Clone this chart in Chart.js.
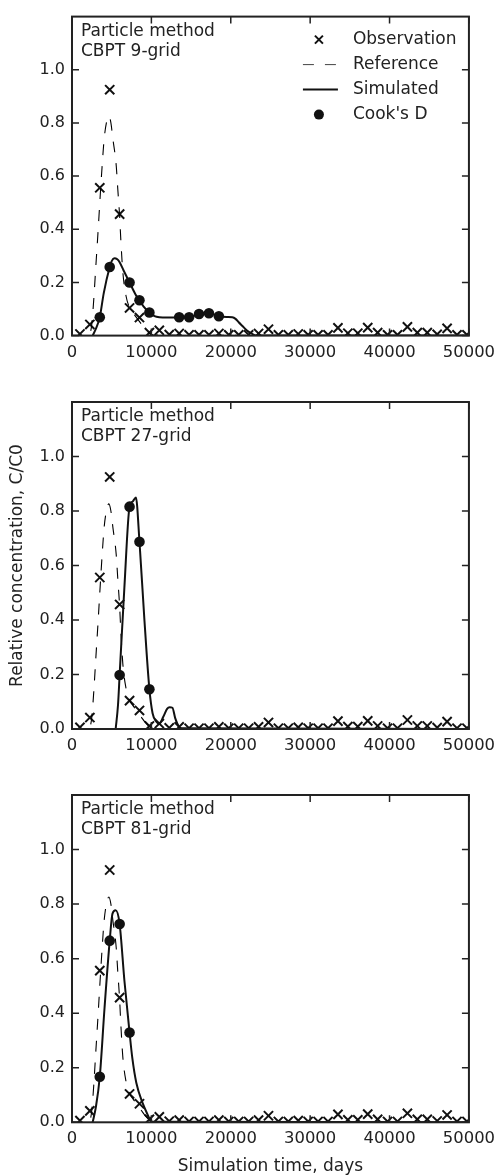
<!DOCTYPE html>
<html lang="en">
<head>
    <meta charset="UTF-8" />
    <meta name="viewport" content="width=device-width, initial-scale=1" />
    <title>Particle method CBPT breakthrough curves</title>
    <script src="https://cdn.jsdelivr.net/npm/chart.js"></script>
    <style>
        body {
            margin: 0;
            padding: 0;
            background-color: #ffffff;
        }

        .wrap {
            position: relative;
            width: 502px;
            height: 1176px;
        }

        .panel {
            position: absolute;
            left: 0;
            width: 502px;
        }
    </style>
</head>
<body>
    <div class="wrap">
        <div class="panel" style="top:0;height:370px"><canvas id="grid9"></canvas></div>
        <div class="panel" style="top:370px;height:392px"><canvas id="grid27"></canvas></div>
        <div class="panel" style="top:762px;height:414px"><canvas id="grid81"></canvas></div>
    </div>

    <script>
        // observations (same in all three panels)
        const obsDays = [1000, 2250, 3500, 4750, 6000, 7250, 8500, 9750, 11000, 12250,
            13500, 14750, 16000, 17250, 18500, 19750, 21000, 22250, 23500, 24750,
            26000, 27250, 28500, 29750, 31000, 32250, 33500, 34750, 36000, 37250,
            38500, 39750, 41000, 42250, 43500, 44750, 46000, 47250, 48500, 49750];
        const obsConc = [0.006, 0.042, 0.556, 0.925, 0.457, 0.104, 0.068, 0.011, 0.02, 0.004,
            0.008, 0.003, 0.003, 0.003, 0.008, 0.003, 0.003, 0.003, 0.008, 0.024,
            0.003, 0.003, 0.006, 0.003, 0.003, 0.003, 0.029, 0.009, 0.009, 0.030,
            0.011, 0.003, 0.003, 0.033, 0.011, 0.011, 0.005, 0.027, 0.003, 0.003];

        // reference solution (dashed)
        const refDays = [0, 2000, 2300, 2500, 2750, 3000, 3300, 3500, 3800, 4050, 4400, 4650, 4900,
            5150, 5570, 5770, 6000, 6150, 6400, 6800, 7250, 7700, 8200, 8700, 9200, 9700, 10200, 50000];
        const refConc = [0, 0, 0.01, 0.045, 0.14, 0.26, 0.4, 0.5, 0.64, 0.74, 0.81, 0.826, 0.8,
            0.74, 0.64, 0.55, 0.45, 0.36, 0.24, 0.15, 0.105, 0.085, 0.065, 0.045, 0.025, 0.01, 0.002, 0];

        // CBPT 9-grid
        const sim9Days = [2600, 3000, 3500, 4000, 4750, 5000, 5350, 5700, 6000, 6500,
            7250, 8000, 8500, 9000, 9750, 10400, 11000, 12000, 13500, 14750,
            16000, 17250, 18500, 19500, 20200, 20600, 21000, 21500, 22000, 22600, 23200, 50000];
        const sim9Conc = [0, 0.025, 0.069, 0.16, 0.258, 0.28, 0.291, 0.287, 0.276, 0.245,
            0.2, 0.155, 0.133, 0.11, 0.087, 0.073, 0.069, 0.068, 0.069, 0.069,
            0.081, 0.084, 0.073, 0.07, 0.069, 0.063, 0.05, 0.035, 0.02, 0.008, 0, 0];
        const cook9Days = [3500, 4750, 7250, 8500, 9750, 13500, 14750, 16000, 17250, 18500];
        const cook9Conc = [0.069, 0.258, 0.2, 0.133, 0.087, 0.069, 0.069, 0.081, 0.084, 0.073];

        // CBPT 27-grid
        const sim27Days = [5500, 5800, 6000, 6600, 7250, 7650, 8050, 8500, 9100, 9750,
            10150, 10600, 11000, 11500, 12000, 12300, 12650, 13000, 13300, 13600, 50000];
        const sim27Conc = [0, 0.09, 0.198, 0.52, 0.816, 0.835, 0.85, 0.687, 0.41, 0.146,
            0.058, 0.028, 0.02, 0.045, 0.075, 0.08, 0.078, 0.04, 0.018, 0.003, 0];
        const cook27Days = [6000, 7250, 8500, 9750];
        const cook27Conc = [0.198, 0.816, 0.687, 0.146];

        // CBPT 81-grid
        const sim81Days = [2600, 3000, 3500, 4100, 4750, 5100, 5500, 6000, 6600, 7250,
            7600, 8100, 8900, 9500, 10000, 50000];
        const sim81Conc = [0, 0.055, 0.167, 0.42, 0.666, 0.765, 0.777, 0.727, 0.52, 0.329,
            0.235, 0.145, 0.07, 0.03, 0.002, 0];
        const cook81Days = [3500, 4750, 6000, 7250];
        const cook81Conc = [0.167, 0.666, 0.727, 0.329];

        const xTicks = [0, 10000, 20000, 30000, 40000, 50000];

        Chart.defaults.font.family = "'DejaVu Sans', sans-serif";
        Chart.defaults.color = '#222';

        const ink = '#111';
        const toXY = (xs, ys) => xs.map((x, i) => ({ x: x, y: ys[i] }));

        // box around plot area + inward ticks on all sides
        const framePlugin = {
            id: 'frame',
            afterDatasetsDraw(chart) {
                const { ctx, chartArea: a, scales } = chart;
                ctx.save();
                ctx.strokeStyle = '#222';
                ctx.lineWidth = 1.5;
                ctx.beginPath();
                scales.x.ticks.forEach(t => {
                    const px = scales.x.getPixelForValue(t.value);
                    ctx.moveTo(px, a.bottom); ctx.lineTo(px, a.bottom - 7);
                    ctx.moveTo(px, a.top); ctx.lineTo(px, a.top + 7);
                });
                scales.y.ticks.forEach(t => {
                    const py = scales.y.getPixelForValue(t.value);
                    ctx.moveTo(a.left, py); ctx.lineTo(a.left + 7, py);
                    ctx.moveTo(a.right, py); ctx.lineTo(a.right - 7, py);
                });
                ctx.stroke();
                ctx.lineWidth = 2;
                ctx.strokeRect(a.left, a.top, a.right - a.left, a.bottom - a.top);
                ctx.restore();
            }
        };

        function notePlugin(lines) {
            return {
                id: 'note',
                afterDatasetsDraw(chart) {
                    const { ctx, chartArea: a } = chart;
                    ctx.save();
                    ctx.font = "17px 'DejaVu Sans', sans-serif";
                    ctx.fillStyle = '#222';
                    ctx.textBaseline = 'middle';
                    ctx.textAlign = 'left';
                    lines.forEach((s, i) => ctx.fillText(s, a.left + 9, a.top + 15 + i * 20));
                    ctx.restore();
                }
            };
        }

        // hand-drawn legend, top right of the first panel
        const keyPlugin = {
            id: 'key',
            afterDatasetsDraw(chart) {
                const { ctx, chartArea: a } = chart;
                const sx = a.right - 150, lx0 = a.right - 166, lx1 = a.right - 131, tx = a.right - 116;
                const rowY = i => a.top + 23 + i * 25;
                ctx.save();
                ctx.strokeStyle = ink;
                ctx.fillStyle = ink;
                // Observation
                ctx.lineWidth = 2;
                ctx.beginPath();
                ctx.moveTo(sx - 4, rowY(0) - 4); ctx.lineTo(sx + 4, rowY(0) + 4);
                ctx.moveTo(sx - 4, rowY(0) + 4); ctx.lineTo(sx + 4, rowY(0) - 4);
                ctx.stroke();
                // Reference
                ctx.lineWidth = 1;
                ctx.strokeStyle = '#444';
                ctx.setLineDash([11, 11]);
                ctx.beginPath();
                ctx.moveTo(lx0, rowY(1)); ctx.lineTo(lx1, rowY(1));
                ctx.stroke();
                ctx.setLineDash([]);
                // Simulated
                ctx.strokeStyle = ink;
                ctx.lineWidth = 2;
                ctx.beginPath();
                ctx.moveTo(lx0, rowY(2)); ctx.lineTo(lx1, rowY(2));
                ctx.stroke();
                // Cook's D
                ctx.beginPath();
                ctx.arc(sx, rowY(3), 5, 0, Math.PI * 2);
                ctx.fill();
                ctx.font = "17px 'DejaVu Sans', sans-serif";
                ctx.fillStyle = '#222';
                ctx.textBaseline = 'middle';
                ['Observation', 'Reference', 'Simulated', "Cook's D"].forEach((s, i) => ctx.fillText(s, tx, rowY(i)));
                ctx.restore();
            }
        };

        function makePanel(id, simDays, simConc, cookDays, cookConc, note, geo) {
            const ctx = document.getElementById(id).getContext('2d');
            const plugins = [framePlugin, notePlugin(note)];
            if (geo.legend) plugins.push(keyPlugin);
            return new Chart(ctx, {
                type: 'scatter',
                data: {
                    datasets: [
                        {
                            label: 'Observation',
                            data: toXY(obsDays, obsConc),
                            pointStyle: 'crossRot',
                            pointRadius: 6.5,
                            pointBorderWidth: 2,
                            borderColor: ink,
                            backgroundColor: ink,
                            clip: 0,
                            order: 4
                        },
                        {
                            label: 'Reference',
                            data: toXY(refDays, refConc),
                            showLine: true,
                            borderColor: '#000',
                            borderWidth: 1.1,
                            borderDash: [11, 11],
                            pointRadius: 0,
                            cubicInterpolationMode: 'monotone',
                            clip: 0,
                            order: 3
                        },
                        {
                            label: 'Simulated',
                            data: toXY(simDays, simConc),
                            showLine: true,
                            borderColor: ink,
                            borderWidth: 2,
                            pointRadius: 0,
                            cubicInterpolationMode: 'monotone',
                            clip: 0,
                            order: 2
                        },
                        {
                            label: "Cook's D",
                            data: toXY(cookDays, cookConc),
                            pointStyle: 'circle',
                            pointRadius: 5.3,
                            pointBorderWidth: 0,
                            backgroundColor: ink,
                            borderColor: ink,
                            clip: 0,
                            order: 1
                        }
                    ]
                },
                options: {
                    responsive: true,
                    maintainAspectRatio: false,
                    animation: false,
                    layout: {
                        padding: { top: geo.top, right: 28.7, bottom: 0, left: 0 }
                    },
                    scales: {
                        x: {
                            type: 'linear',
                            min: 0,
                            max: 50000,
                            afterBuildTicks: scale => { scale.ticks = xTicks.map(v => ({ value: v })); },
                            ticks: {
                                font: { size: 16.4 },
                                color: '#222',
                                padding: 7,
                                maxRotation: 0,
                                callback: v => String(v)
                            },
                            grid: { display: false, drawTicks: false },
                            border: { display: false },
                            title: {
                                display: !!geo.xTitle,
                                text: 'Simulation time, days',
                                font: { size: 17, lineHeight: 1.1 },
                                color: '#222',
                                padding: { top: 0, bottom: 0 }
                            },
                            afterFit: scale => { scale.height = geo.xHeight; }
                        },
                        y: {
                            min: 0,
                            max: 1.2,
                            afterBuildTicks: scale => { scale.ticks = scale.ticks.filter(t => t.value <= 1.0001); },
                            ticks: {
                                stepSize: 0.2,
                                font: { size: 16 },
                                color: '#222',
                                padding: 7,
                                callback: v => v.toFixed(1)
                            },
                            grid: { display: false, drawTicks: false },
                            border: { display: false },
                            title: {
                                display: !!geo.yTitle,
                                text: 'Relative concentration, C/C0',
                                font: { size: 17, lineHeight: 1.2 },
                                color: '#222',
                                padding: { top: 7.3, bottom: 0 }
                            },
                            afterFit: scale => { scale.width = 72; }
                        }
                    },
                    plugins: {
                        legend: { display: false },
                        tooltip: { enabled: false }
                    }
                },
                plugins: plugins
            });
        }

        makePanel('grid9', sim9Days, sim9Conc, cook9Days, cook9Conc,
            ['Particle method', 'CBPT 9-grid'], { top: 9, xHeight: 34.4, legend: true });
        makePanel('grid27', sim27Days, sim27Conc, cook27Days, cook27Conc,
            ['Particle method', 'CBPT 27-grid'], { top: 32, xHeight: 33, yTitle: true });
        makePanel('grid81', sim81Days, sim81Conc, cook81Days, cook81Conc,
            ['Particle method', 'CBPT 81-grid'], { top: 33, xHeight: 53.7, xTitle: true });
    </script>
</body>
</html>
